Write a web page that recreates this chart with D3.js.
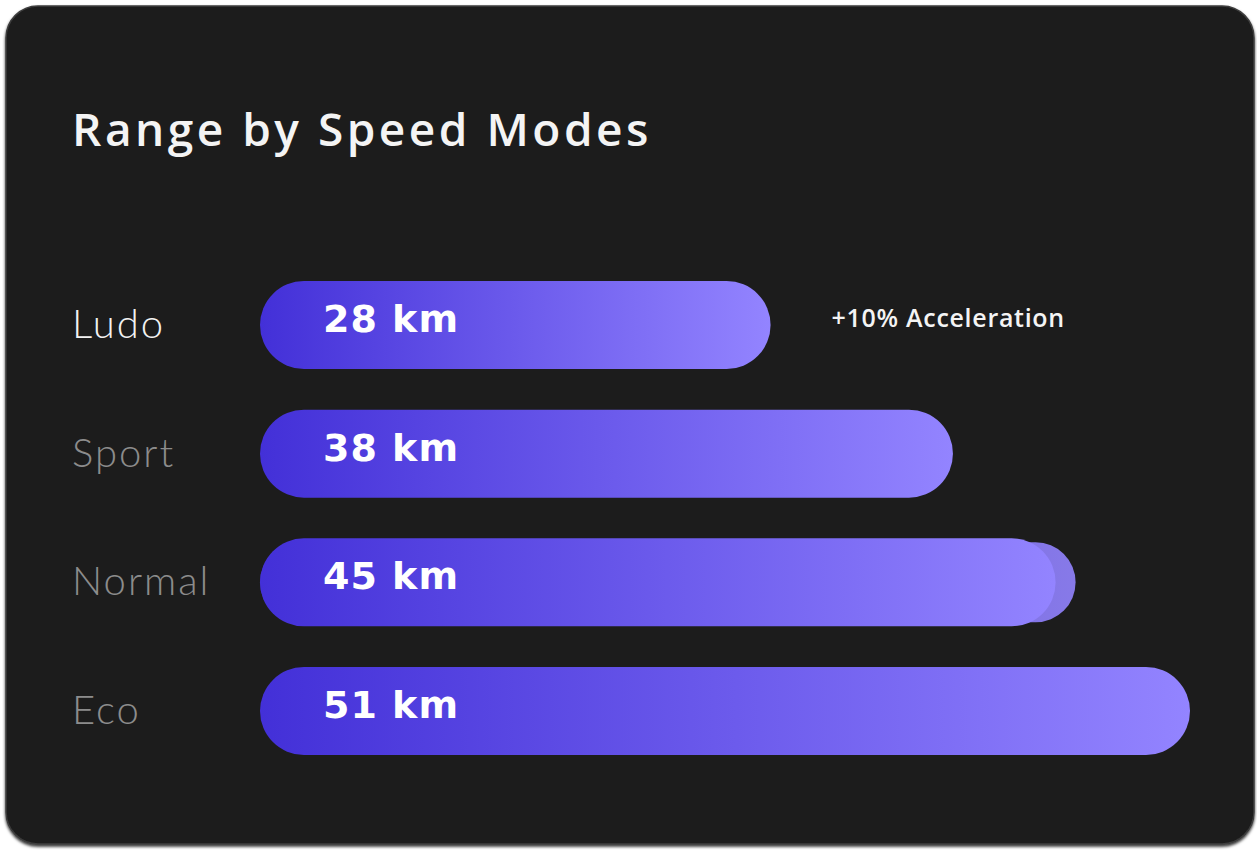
<!DOCTYPE html>
<html lang="en">
<head>
    <meta charset="UTF-8">
    <title>Range by Speed Modes</title>
    <script src="https://d3js.org/d3.v7.min.js"></script>
    <style>
        body { margin: 0; background: #ffffff; }
        .title { fill: #f4f4f4; font-family: "Open Sans", sans-serif; font-weight: 600; font-size: 46px; letter-spacing: 3.5px; }
        .mode { font-family: Lato, sans-serif; font-weight: 300; font-size: 40px; letter-spacing: 2px; }
        .value { fill: #ffffff; font-family: "DejaVu Sans", sans-serif; font-weight: 700; font-size: 38px; letter-spacing: 1px; }
        .note { fill: #f4f4f4; font-family: "Open Sans", sans-serif; font-weight: 600; font-size: 25px; letter-spacing: 0.7px; }
    </style>
</head>
<body>
<script>
    const modes = ["Ludo", "Sport", "Normal", "Eco"];
    const ranges = [28, 38, 45, 51];
    const unit = "km";
    const notes = ["+10% Acceleration", "", "", ""];
    const modeColors = ["#f2f2f2", "#8c8c8c", "#8c8c8c", "#8c8c8c"];

    const width = 1257, height = 857;
    const barLeft = 260;

    const svg = d3.select("body").append("svg")
            .attr("width", width).attr("height", height);

    const defs = svg.append("defs");
    const grad = defs.append("linearGradient").attr("id", "barGrad")
            .attr("x1", 0).attr("x2", 1).attr("y1", 0).attr("y2", 0);
    grad.append("stop").attr("offset", "0%").attr("stop-color", "#4330d8");
    grad.append("stop").attr("offset", "100%").attr("stop-color", "#9384ff");

    const shadow = defs.append("filter").attr("id", "cardShadow")
            .attr("x", "-5%").attr("y", "-5%").attr("width", "110%").attr("height", "110%");
    shadow.append("feDropShadow").attr("dx", 0).attr("dy", 2).attr("stdDeviation", 1.5)
            .attr("flood-color", "#000").attr("flood-opacity", 0.8);

    // card
    svg.append("rect")
            .attr("x", 6).attr("y", 6).attr("width", 1248).attr("height", 838)
            .attr("rx", 32).attr("fill", "#1e1e1e")
            .attr("stroke", "#3c3c3c").attr("stroke-width", 1.5)
            .attr("filter", "url(#cardShadow)");

    svg.append("text").attr("class", "title")
            .attr("x", 72).attr("y", 146)
            .text("Range by Speed Modes");

    const x = d3.scaleLinear().domain([0, 51]).range([barLeft, 1190]);
    const y = d3.scaleBand().domain(modes).range([281, 755]).paddingInner(0.316).paddingOuter(0);
    const bh = y.bandwidth();

    const rows = svg.append("g").selectAll("g")
            .data(modes.map((m, i) => ({mode: m, value: ranges[i], note: notes[i], color: modeColors[i]})))
            .join("g")
            .attr("transform", d => `translate(0,${y(d.mode)})`);

    rows.append("text").attr("class", "mode")
            .attr("x", 72).attr("y", bh / 2 + 13)
            .attr("fill", d => d.color)
            .text(d => d.mode);

    // the Normal bar has a soft second cap peeking out at its end
    rows.filter(d => d.mode === "Normal").append("rect")
            .attr("x", barLeft).attr("y", 4)
            .attr("width", d => x(d.value) - barLeft - 5).attr("height", bh - 8)
            .attr("rx", (bh - 8) / 2)
            .attr("fill", "url(#barGrad)").attr("opacity", 0.9);

    rows.append("rect")
            .attr("x", barLeft).attr("y", 0)
            .attr("width", d => x(d.value) - barLeft - (d.mode === "Normal" ? 25 : 0))
            .attr("height", bh).attr("rx", bh / 2)
            .attr("fill", "url(#barGrad)");

    rows.append("text").attr("class", "value")
            .attr("x", 323).attr("y", bh / 2 + 7)
            .text(d => `${d.value} ${unit}`);

    rows.filter(d => d.note).append("text").attr("class", "note")
            .attr("x", d => x(d.value) + 61).attr("y", bh / 2 + 2)
            .text(d => d.note);
</script>
</body>
</html>
